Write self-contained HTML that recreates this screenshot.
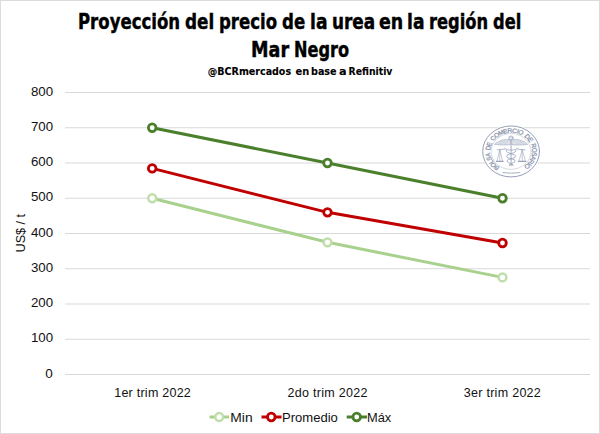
<!DOCTYPE html>
<html>
<head>
<meta charset="utf-8">
<style>
html,body{margin:0;padding:0;background:#fff;}
body{width:600px;height:434px;overflow:hidden;}
svg{display:block;}
.t{font-family:"Liberation Sans",Arial,sans-serif;}
.ax{font-family:"Liberation Sans",Arial,sans-serif;font-size:12.5px;fill:#111;}
</style>
</head>
<body>
<svg width="600" height="434" viewBox="0 0 600 434">
  <rect x="0.5" y="0.5" width="599" height="433" fill="#fff" stroke="#dcdcdc" stroke-width="1"/>

  <!-- title -->
  <g font-family="DejaVu Sans, Liberation Sans, sans-serif" style="font-stretch:condensed" font-size="21" font-weight="bold" fill="#000" stroke="#000" stroke-width="0.4">
  <text x="78.00" y="28.6" textLength="102.06" lengthAdjust="spacingAndGlyphs">Proyección</text>
  <text x="185.00" y="28.6" textLength="29.16" lengthAdjust="spacingAndGlyphs">del</text>
  <text x="219.00" y="28.6" textLength="58.09" lengthAdjust="spacingAndGlyphs">precio</text>
  <text x="282.00" y="28.6" textLength="23.14" lengthAdjust="spacingAndGlyphs">de</text>
  <text x="310.00" y="28.6" textLength="17.46" lengthAdjust="spacingAndGlyphs">la</text>
  <text x="332.00" y="28.6" textLength="43.18" lengthAdjust="spacingAndGlyphs">urea</text>
  <text x="379.00" y="28.6" textLength="24.24" lengthAdjust="spacingAndGlyphs">en</text>
  <text x="407.00" y="28.6" textLength="17.46" lengthAdjust="spacingAndGlyphs">la</text>
  <text x="429.00" y="28.6" textLength="59.14" lengthAdjust="spacingAndGlyphs">región</text>
  <text x="493.00" y="28.6" textLength="28.24" lengthAdjust="spacingAndGlyphs">del</text>
  <text x="251.00" y="56.8" textLength="38.06" lengthAdjust="spacingAndGlyphs">Mar</text>
  <text x="294.00" y="56.8" textLength="55.08" lengthAdjust="spacingAndGlyphs">Negro</text>
  </g>
  <g font-family="DejaVu Sans, Liberation Sans, sans-serif" style="font-stretch:condensed" font-size="11" font-weight="bold" fill="#000" stroke="#000" stroke-width="0.1">
  <text x="207.80" y="75" textLength="83.30" lengthAdjust="spacingAndGlyphs">@BCRmercados</text>
  <text x="295.50" y="75" textLength="13.66" lengthAdjust="spacingAndGlyphs">en</text>
  <text x="311.00" y="75" textLength="25.62" lengthAdjust="spacingAndGlyphs">base</text>
  <text x="339.0" y="75" textLength="7.6" lengthAdjust="spacingAndGlyphs">a</text>
  <text x="348.6" y="75" textLength="43.8" lengthAdjust="spacingAndGlyphs">Refinitiv</text>
  </g>

  <!-- gridlines -->
  <g stroke="#d9d9d9" stroke-width="1">
    <line x1="65" x2="590" y1="92.5" y2="92.5"/>
    <line x1="65" x2="590" y1="127.75" y2="127.75"/>
    <line x1="65" x2="590" y1="163" y2="163"/>
    <line x1="65" x2="590" y1="198.25" y2="198.25"/>
    <line x1="65" x2="590" y1="233.5" y2="233.5"/>
    <line x1="65" x2="590" y1="268.75" y2="268.75"/>
    <line x1="65" x2="590" y1="304" y2="304"/>
    <line x1="65" x2="590" y1="339.25" y2="339.25"/>
    <line x1="65" x2="590" y1="374.5" y2="374.5"/>
  </g>

  <!-- y labels -->
  <g class="ax" font-size="13" style="font-size:13px">
    <text id="y800" x="30.9" y="95.70" textLength="22.2" lengthAdjust="spacingAndGlyphs">800</text>
    <text id="y700" x="30.9" y="130.95" textLength="22.2" lengthAdjust="spacingAndGlyphs">700</text>
    <text id="y600" x="30.9" y="166.20" textLength="22.2" lengthAdjust="spacingAndGlyphs">600</text>
    <text id="y500" x="30.9" y="201.45" textLength="22.2" lengthAdjust="spacingAndGlyphs">500</text>
    <text id="y400" x="30.9" y="236.70" textLength="22.2" lengthAdjust="spacingAndGlyphs">400</text>
    <text id="y300" x="30.9" y="271.95" textLength="22.2" lengthAdjust="spacingAndGlyphs">300</text>
    <text id="y200" x="30.9" y="307.20" textLength="22.2" lengthAdjust="spacingAndGlyphs">200</text>
    <text id="y100" x="30.9" y="342.45" textLength="22.2" lengthAdjust="spacingAndGlyphs">100</text>
    <text id="y0" x="45.3" y="377.70" textLength="7.5" lengthAdjust="spacingAndGlyphs">0</text>
  </g>
  <text id="ytitle" class="ax" lengthAdjust="spacingAndGlyphs" textLength="38.5" transform="translate(24.6,252.4) rotate(-90)">US$ / t</text>

  <!-- x labels -->
  <g class="ax" lengthAdjust="spacingAndGlyphs">
    <text id="x0" x="114.2" y="396.7" textLength="76.60">1er trim 2022</text>
    <text id="x1" x="287.5" y="396.7" textLength="80.00">2do trim 2022</text>
    <text id="x2" x="463.7" y="396.7" textLength="77.10">3er trim 2022</text>
  </g>

  <!-- watermark -->
  <g id="seal" transform="translate(511.1,151.45) scale(1,0.897)" fill="none" stroke="#98a1b8" stroke-linecap="round" stroke-linejoin="round">
    <circle r="29.6" fill="#fff" stroke="none"/>
    <circle r="28.4" stroke="#8f98b0" stroke-width="1"/>
    <circle r="20" stroke-width="0.6" stroke="#b9c0d0"/>
    <path d="M-8.2,23.6 Q0.2,24.9 8.6,23.6" stroke-width="0.9"/>
    <g font-family="Liberation Sans, Arial, sans-serif" font-size="6.8" fill="#858fa9" stroke="#858fa9" stroke-width="0.22" text-anchor="middle"><text transform="translate(-13.04,16.46) rotate(218.4)">B</text><text transform="translate(-16.06,13.53) rotate(229.9)">O</text><text transform="translate(-18.28,10.34) rotate(240.5)">L</text><text transform="translate(-19.76,7.11) rotate(250.2)">S</text><text transform="translate(-20.73,3.35) rotate(260.8)">A</text><text transform="translate(-20.70,-3.51) rotate(279.6)">D</text><text transform="translate(-19.65,-7.41) rotate(290.7)">E</text><text transform="translate(-16.21,-13.35) rotate(309.5)">C</text><text transform="translate(-13.11,-16.41) rotate(321.4)">O</text><text transform="translate(-9.14,-18.91) rotate(334.2)">M</text><text transform="translate(-5.04,-20.39) rotate(346.1)">E</text><text transform="translate(-1.04,-20.97) rotate(357.2)">R</text><text transform="translate(3.15,-20.76) rotate(368.6)">C</text><text transform="translate(5.99,-20.13) rotate(376.6)">I</text><text transform="translate(8.87,-19.04) rotate(385.0)">O</text><text transform="translate(14.76,-14.94) rotate(404.7)">D</text><text transform="translate(17.35,-11.83) rotate(415.7)">E</text><text transform="translate(20.24,-5.61) rotate(434.5)">R</text><text transform="translate(20.96,-1.31) rotate(446.4)">O</text><text transform="translate(20.80,2.89) rotate(457.9)">S</text><text transform="translate(19.91,6.67) rotate(468.5)">A</text><text transform="translate(18.27,10.36) rotate(479.6)">R</text><text transform="translate(16.66,12.79) rotate(487.5)">I</text><text transform="translate(14.61,15.08) rotate(495.9)">O</text></g>
    <!-- staff -->
    <line x1="0" y1="-12.8" x2="0" y2="16" stroke-width="0.9"/>
    <circle cx="-0.1" cy="-15" r="2.2" stroke-width="0.8" fill="#e3e6ee"/>
    <!-- wings -->
    <path d="M-1.2,-12.9 C-6,-14.2 -12,-12.6 -16.6,-7.9 C-11,-7.1 -6,-7 -1.2,-7.5 Z" stroke-width="0.6" fill="#dfe3eb"/>
    <path d="M1.2,-12.9 C6,-14.2 12,-12.6 16.6,-7.9 C11,-7.1 6,-7 1.2,-7.5 Z" stroke-width="0.6" fill="#dfe3eb"/>
    <path d="M-3,-11.6 L-6.5,-8.2 M-6,-11.8 L-9.5,-8.1 M-9,-11.2 L-12.5,-8 M3,-11.6 L6.5,-8.2 M6,-11.8 L9.5,-8.1 M9,-11.2 L12.5,-8" stroke-width="0.5" stroke="#aab2c6"/>
    <!-- beam -->
    <path d="M-13.6,-1.8 L-6.2,-2.6 M6.4,-2.6 L13.8,-1.8" stroke-width="0.8"/>
    <!-- pans -->
    <path d="M-11.3,-1.8 L-14.2,10.9 M-11.3,-1.8 L-8.4,10.9 M-11.3,-1.8 L-11.3,10.5" stroke-width="0.6"/>
    <path d="M11.1,-1.8 L7.8,10.9 M11.1,-1.8 L14.4,10.9 M11.1,-1.8 L11.1,10.5" stroke-width="0.6"/>
    <path d="M-14.5,11.2 L-8.1,11.2 M7.5,11.2 L14.7,11.2" stroke-width="1.4"/>
    <!-- snakes -->
    <path d="M-6.2,-3.8 C-5.5,-0.5 5.5,-0.5 6.6,-3.8" stroke-width="0.8"/>
    <path d="M-5,-1 C-6,2 5,3 4.5,5.5 C4,8.5 -4.5,8 -4,10.8 C-3.6,13.2 2.5,13.5 2,15.2" stroke-width="0.9"/>
    <path d="M5,-1 C6,2 -5,3 -4.5,5.5 C-4,8.5 4.5,8 4,10.8 C3.6,13.2 -2.5,13.5 -2,15.2" stroke-width="0.9"/>
    <path d="M-1.8,15.6 L0,14.4 L1.8,15.6" stroke-width="0.7"/>
  </g>

  <!-- series -->
  <g fill="none" stroke-width="3" stroke-linejoin="round" stroke-linecap="round">
    <polyline stroke="#a9d18e" points="152.2,198.25 327.5,242.3 502.5,277.4"/>
    <polyline stroke="#c00000" points="152.2,168.4 327.5,212.35 502.5,243"/>
    <polyline stroke="#4a7f2c" points="152.2,127.75 327.5,163 502.5,198.25"/>
  </g>
  <g fill="#fff" stroke-width="2.8">
    <g stroke="#c0deab" stroke-width="2.5">
      <circle cx="152.2" cy="198.25" r="3.9"/><circle cx="327.5" cy="242.3" r="3.9"/><circle cx="502.5" cy="277.4" r="3.9"/>
    </g>
    <g stroke="#c00000">
      <circle cx="152.2" cy="168.4" r="3.8"/><circle cx="327.5" cy="212.35" r="3.8"/><circle cx="502.5" cy="243" r="3.8"/>
    </g>
    <g stroke="#4a7f2c">
      <circle cx="152.2" cy="127.75" r="3.8"/><circle cx="327.5" cy="163" r="3.8"/><circle cx="502.5" cy="198.25" r="3.8"/>
    </g>
  </g>

  <!-- legend -->
  <g stroke-width="3" fill="#fff">
    <line x1="209.5" x2="229" y1="417" y2="417" stroke="#a9d18e"/>
    <circle cx="219.2" cy="417" r="3.9" stroke="#c0deab" stroke-width="2.5"/>
    <line x1="261.5" x2="281.5" y1="417" y2="417" stroke="#c00000"/>
    <circle cx="271.3" cy="417" r="3.8" stroke="#c00000" stroke-width="2.8"/>
    <line x1="346.7" x2="367" y1="417" y2="417" stroke="#4a7f2c"/>
    <circle cx="356.7" cy="417" r="3.8" stroke="#4a7f2c" stroke-width="2.8"/>
  </g>
  <g class="ax" lengthAdjust="spacingAndGlyphs">
    <text id="lg0" x="230.3" y="421.5" textLength="22.3" lengthAdjust="spacingAndGlyphs">Min</text>
    <text id="lg1" x="282.0" y="421.5" textLength="55.8" lengthAdjust="spacingAndGlyphs">Promedio</text>
    <text id="lg2" x="367.0" y="421.5" textLength="24.3" lengthAdjust="spacingAndGlyphs">Máx</text>
  </g>
</svg>
</body>
</html>
